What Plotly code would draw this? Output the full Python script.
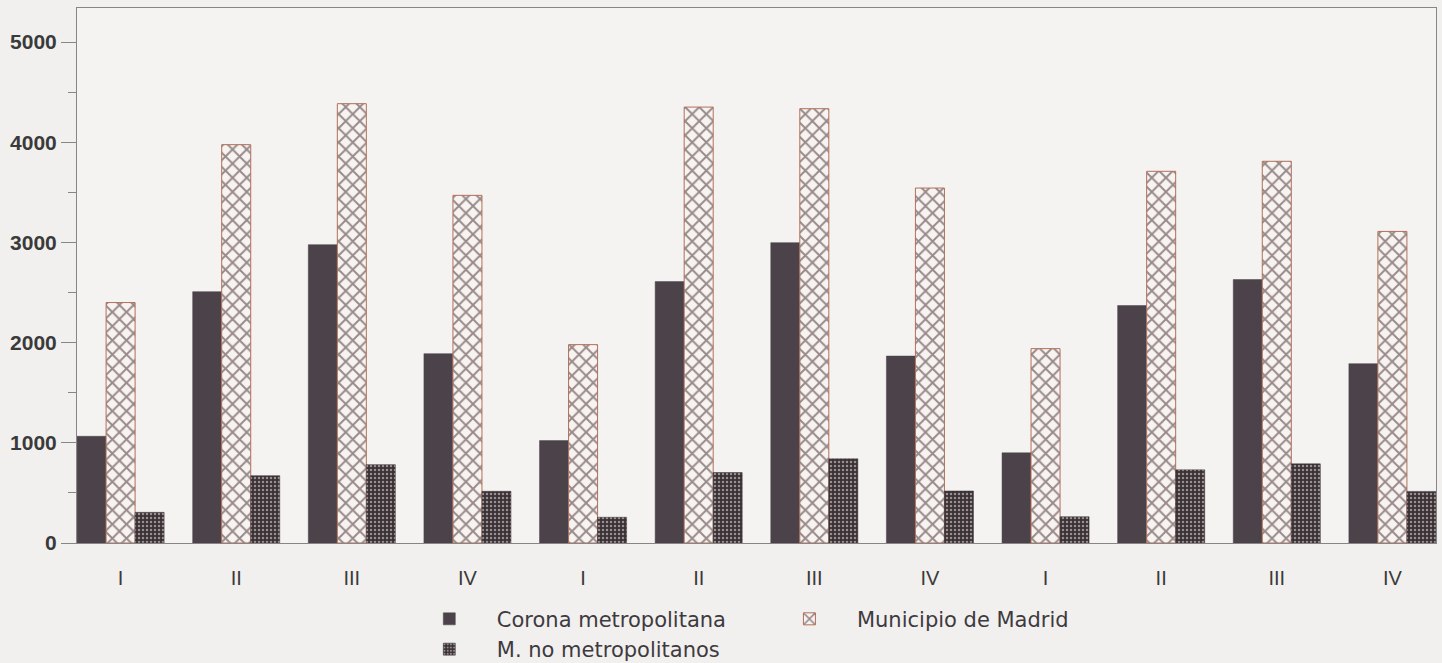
import plotly.graph_objects as go

quarters = ["I", "II", "III", "IV", "I", "II", "III", "IV", "I", "II", "III", "IV"]
corona = [1065, 2509, 2978, 1890, 1022, 2609, 2998, 1866, 900, 2370, 2630, 1790]
madrid = [2400, 3976, 4385, 3470, 1980, 4351, 4335, 3543, 1940, 3710, 3810, 3110]
no_metro = [306, 672, 782, 516, 257, 703, 840, 519, 262, 730, 790, 515]

positions = list(range(len(quarters)))

fig = go.Figure()
fig.add_trace(go.Bar(
    x=positions, y=corona, name="Corona metropolitana",
    marker=dict(color="#4b424a", line=dict(color="#4b424a", width=0.5)),
    legend="legend",
))
fig.add_trace(go.Bar(
    x=positions, y=madrid, name="Municipio de Madrid",
    marker=dict(color="#f7f3f1", line=dict(color="#b0705a", width=1),
                pattern=dict(shape="x", size=10, solidity=0.35,
                             fgcolor="#3a2024", bgcolor="#f7f3f1", fillmode="overlay")),
    legend="legend2",
))
fig.add_trace(go.Bar(
    x=positions, y=no_metro, name="M. no metropolitanos",
    marker=dict(color="#3a3035", line=dict(color="#3a3035", width=0.5),
                pattern=dict(shape=".", size=4, solidity=0.3,
                             fgcolor="#f4f0ee", bgcolor="#3a3035", fillmode="overlay")),
    legend="legend",
))

axis_color = "#8a8585"
legend_font = dict(size=21, color="#3e3a40", family="DejaVu Sans, sans-serif")
fig.update_layout(
    width=1442, height=663,
    margin=dict(l=77, r=6, t=8, b=120),
    paper_bgcolor="#f1f0ee",
    plot_bgcolor="#f4f3f1",
    barmode="group",
    bargap=0.247,
    bargroupgap=0,
    font=dict(family="Liberation Sans, Arial, sans-serif", color="#333333"),
    xaxis=dict(
        tickmode="array", tickvals=positions, ticktext=quarters,
        range=[-0.377, 11.377], automargin=False,
        showgrid=False, zeroline=False,
        showline=True, mirror=True, linecolor=axis_color, linewidth=1,
        ticks="", ticklabelstandoff=17,
        tickfont=dict(size=20, color="#3a3a3a"),
    ),
    yaxis=dict(
        range=[0, 5340], tickvals=[0, 1000, 2000, 3000, 4000, 5000],
        automargin=False,
        showgrid=False, zeroline=False,
        showline=True, mirror=True, linecolor=axis_color, linewidth=1,
        ticks="outside", ticklen=15, tickcolor=axis_color, tickwidth=1,
        minor=dict(dtick=500, ticks="outside", ticklen=8, tickcolor=axis_color),
        ticklabelstandoff=0,
        tickfont=dict(size=21, color="#3a3a3a", family="Liberation Sans, Arial, sans-serif", weight="bold"),
    ),
    showlegend=True,
    legend=dict(
        x=0.239, y=0.097, xref="paper", yref="container",
        xanchor="left", yanchor="top",
        orientation="v", bgcolor="rgba(0,0,0,0)",
        font=legend_font, itemwidth=85, tracegroupgap=0,
    ),
    legend2=dict(
        x=0.504, y=0.097, xref="paper", yref="container",
        xanchor="left", yanchor="top",
        orientation="v", bgcolor="rgba(0,0,0,0)",
        font=legend_font, itemwidth=85,
    ),
)

fig.write_html("out.html", config={"displayModeBar": False},
               post_script="document.body.style.margin='0';")
